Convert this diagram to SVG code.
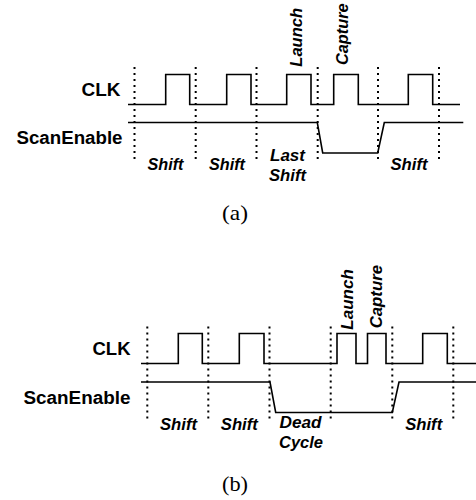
<svg xmlns="http://www.w3.org/2000/svg" width="476" height="500" viewBox="0 0 476 500">
<style>
.sig{fill:none;stroke:#000;stroke-width:1.6;stroke-linejoin:miter}
.dot{fill:none;stroke:#000;stroke-width:2;stroke-dasharray:2 4}
.name{font-family:"Liberation Sans",Arial,sans-serif;font-weight:bold;font-size:17.5px;fill:#000}
.lbl{font-family:"Liberation Sans",Arial,sans-serif;font-weight:bold;font-style:italic;font-size:16px;fill:#000}
.cap{font-family:"Liberation Serif","Times New Roman",serif;font-size:21px;fill:#000}
</style>
<rect width="476" height="500" fill="#fff"/>
<g id="diagram-a">
  <g id="a-grid">
    <path class="dot" d="M134.5,67V163M195.7,67V163M256.5,67V163M317.7,67V163M378,67V163M439,67V163"/>
  </g>
  <g id="a-signals">
    <path id="a-clk" class="sig" d="M128,104.5H165.7V74.5H189.7V104.5H226.7V74.5H251V104.5H286.7V74.5H311V104.5H333.7V74.5H358.3V104.5H408.3V74.5H432.7V104.5H460"/>
    <path id="a-se" class="sig" d="M128,122.5H317.3L322.7,153H377.7L384.3,122.5H463.3"/>
  </g>
  <g id="a-labels">
    <text class="name" x="120.5" y="95.5" text-anchor="end" textLength="39" lengthAdjust="spacingAndGlyphs">CLK</text>
    <text class="name" x="122.5" y="144" text-anchor="end" textLength="106" lengthAdjust="spacingAndGlyphs">ScanEnable</text>
    <text class="lbl" x="165.5" y="170" text-anchor="middle" textLength="36" lengthAdjust="spacingAndGlyphs">Shift</text>
    <text class="lbl" x="227" y="170" text-anchor="middle" textLength="36" lengthAdjust="spacingAndGlyphs">Shift</text>
    <text class="lbl" x="287.5" y="161" text-anchor="middle" textLength="35" lengthAdjust="spacingAndGlyphs">Last</text>
    <text class="lbl" x="287.5" y="181" text-anchor="middle" textLength="37" lengthAdjust="spacingAndGlyphs">Shift</text>
    <text class="lbl" x="409" y="170" text-anchor="middle" textLength="37" lengthAdjust="spacingAndGlyphs">Shift</text>
    <text class="lbl" transform="translate(301.5,66.7) rotate(-90)" textLength="58.7" lengthAdjust="spacingAndGlyphs">Launch</text>
    <text class="lbl" transform="translate(348,65) rotate(-90)" textLength="61.7" lengthAdjust="spacingAndGlyphs">Capture</text>
    <text class="cap" x="235" y="219.5" text-anchor="middle" textLength="26" lengthAdjust="spacingAndGlyphs">(a)</text>
  </g>
</g>
<g id="diagram-b">
  <g id="b-grid">
    <path class="dot" d="M147.3,326.5V422M208.3,326.5V422M269.5,326.5V422M330.7,326.5V422M392.3,326.5V422M453.3,326.5V422"/>
  </g>
  <g id="b-signals">
    <path id="b-clk" class="sig" d="M141,363.5H178.3V333.5H202.3V363.5H239.3V333.5H264V363.5H337V333.5H356V363.5H367.5V333.5H386V363.5H422.7V333.5H447.3V363.5H476"/>
    <path id="b-se" class="sig" d="M141,382H270L275.7,412.5H392.3L399,382H476"/>
  </g>
  <g id="b-labels">
    <text class="name" x="130.5" y="355" text-anchor="end" textLength="38" lengthAdjust="spacingAndGlyphs">CLK</text>
    <text class="name" x="130.5" y="403.7" text-anchor="end" textLength="107" lengthAdjust="spacingAndGlyphs">ScanEnable</text>
    <text class="lbl" x="178.5" y="429.5" text-anchor="middle" textLength="37" lengthAdjust="spacingAndGlyphs">Shift</text>
    <text class="lbl" x="239.3" y="429.5" text-anchor="middle" textLength="37" lengthAdjust="spacingAndGlyphs">Shift</text>
    <text class="lbl" x="300.5" y="427.5" text-anchor="middle" textLength="42" lengthAdjust="spacingAndGlyphs">Dead</text>
    <text class="lbl" x="301" y="447.5" text-anchor="middle" textLength="44" lengthAdjust="spacingAndGlyphs">Cycle</text>
    <text class="lbl" x="423.7" y="429.5" text-anchor="middle" textLength="37" lengthAdjust="spacingAndGlyphs">Shift</text>
    <text class="lbl" transform="translate(352.5,329.7) rotate(-90)" textLength="60.5" lengthAdjust="spacingAndGlyphs">Launch</text>
    <text class="lbl" transform="translate(381.5,328.3) rotate(-90)" textLength="63.3" lengthAdjust="spacingAndGlyphs">Capture</text>
    <text class="cap" x="235" y="491" text-anchor="middle" textLength="26" lengthAdjust="spacingAndGlyphs">(b)</text>
  </g>
</g>
</svg>
